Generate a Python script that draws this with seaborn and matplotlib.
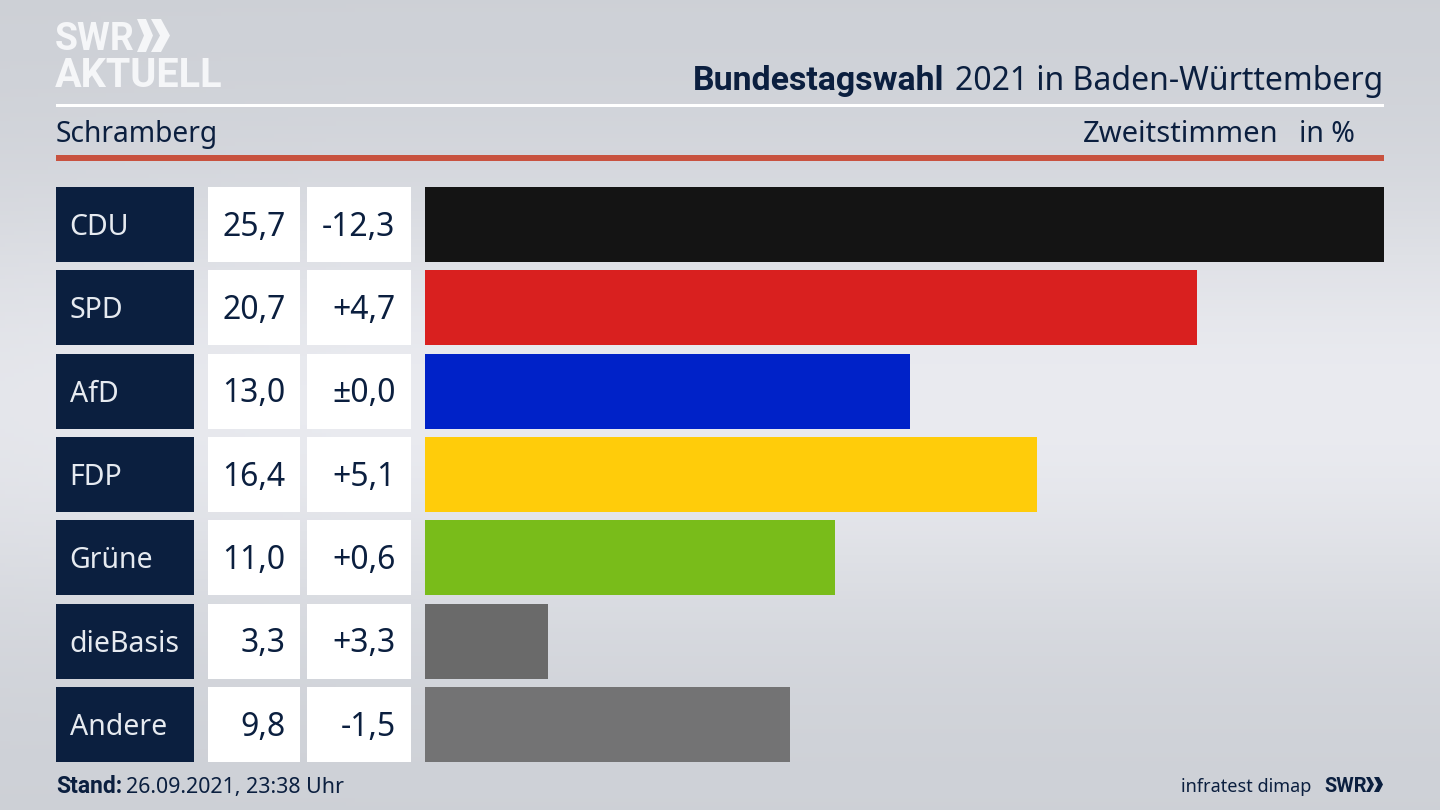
import numpy as np
import pandas as pd
import matplotlib
matplotlib.use('Agg')
import matplotlib.pyplot as plt
import seaborn as sns
from matplotlib.patches import Polygon, Rectangle

parteien = ['CDU', 'SPD', 'AfD', 'FDP', 'Grüne', 'dieBasis', 'Andere']
anteil = [25.7, 20.7, 13.0, 16.4, 11.0, 3.3, 9.8]
anteil_labels = ['25,7', '20,7', '13,0', '16,4', '11,0', '3,3', '9,8']
diff_labels = ['-12,3', '+4,7', '±0,0', '+5,1', '+0,6', '+3,3', '-1,5']
farben = ['#141414', '#d9201f', '#0022c8', '#ffcc0a', '#79bc1a', '#6a6a6a', '#737374']

NAVY = '#0b1f3f'
FONT = 'Noto Sans'
FONT_BOLD = 'Roboto'

sns.set_theme(style='white')
plt.rcParams['font.family'] = [FONT, 'DejaVu Sans']

W, H = 1440, 810
fig = plt.figure(figsize=(W / 100, H / 100), dpi=100)

# Hintergrund: Verlauf grau - hell - grau
bg = fig.add_axes([0, 0, 1, 1], zorder=0)
yy = np.linspace(0, 1, 200)
xx = np.linspace(-1, 1, 300)
verlauf = np.exp(-((yy - 0.5) / 0.27) ** 2)[:, None] * (1 - 0.35 * np.clip(-xx[None, :] - 0.5, 0, 1))
c_dunkel = np.array([205, 208, 214]) / 255
c_hell = np.array([234, 235, 240]) / 255
bild = c_dunkel + (c_hell - c_dunkel) * verlauf[:, :, None]
bg.imshow(bild, extent=(0, W, H, 0), aspect='auto')
bg.set_xlim(0, W)
bg.set_ylim(H, 0)
bg.axis('off')

# Pixel-Achse fuer Texte und Tabelle
px = fig.add_axes([0, 0, 1, 1], zorder=2)
px.set_xlim(0, W)
px.set_ylim(H, 0)
px.axis('off')
px.patch.set_alpha(0)

# Balken
ax = fig.add_axes([424.5 / W, 1 - 762 / H, (1384 - 424.5) / W, 575 / H], zorder=1)
ax.patch.set_alpha(0)
df = pd.DataFrame({'partei': parteien, 'anteil': anteil})
sns.barplot(data=df, y='partei', x='anteil', hue='partei', palette=farben, order=parteien,
            hue_order=parteien, saturation=1, width=0.9, legend=False, dodge=False,
            edgecolor='none', linewidth=0, ax=ax)
ax.set_xlim(0, 25.7)
ax.set_ylim(6.45, -0.45)
ax.axis('off')

# Tabelle links
zeile = 575 / 6.9
for i, partei in enumerate(parteien):
    mitte = 187 + zeile * (i + 0.45)
    top = mitte - 37.5
    px.add_patch(Rectangle((56, top), 137.5, 75, color=NAVY, lw=0))
    px.add_patch(Rectangle((208, top), 91.5, 75, color='white', lw=0))
    px.add_patch(Rectangle((307, top), 103.5, 75, color='white', lw=0))
    px.text(69.5, mitte + 10.5, partei, color='#e6eaf0', fontsize=20.5, va='baseline')
    px.text(285.5, mitte + 11, anteil_labels[i], color=NAVY, fontsize=23, ha='right', va='baseline')
    px.text(395.5, mitte + 11, diff_labels[i], color=NAVY, fontsize=23, ha='right', va='baseline')

# Linien
px.add_patch(Rectangle((56, 104), 1328, 3, color='white', lw=0))
px.add_patch(Rectangle((56, 155), 1328, 5.5, color='#c8523f', lw=0))

# Kopf
px.text(1383, 90, '2021 in Baden-Württemberg', color=NAVY, fontsize=23, ha='right', va='baseline')
px.text(944, 90, 'Bundestagswahl', color=NAVY, fontsize=24.4, family=FONT_BOLD, fontweight='bold',
        ha='right', va='baseline')
px.text(56, 142, 'Schramberg', color=NAVY, fontsize=20.3, va='baseline')
px.text(1278, 142, 'Zweitstimmen', color=NAVY, fontsize=21, ha='right', va='baseline')
px.text(1355, 142, 'in %', color=NAVY, fontsize=20.5, ha='right', va='baseline')

# Logo oben links
px.text(55, 50, 'SWR', color='#f5f6f8', fontsize=27, family=FONT_BOLD, fontweight='bold', va='baseline')
px.text(55, 87, 'AKTUELL', color='#f5f6f8', fontsize=28.5, family=FONT_BOLD, fontweight='bold', va='baseline')


def chevron(x, y0, y1, breite, dicke, farbe):
    m = (y0 + y1) / 2
    px.add_patch(Polygon([(x, y0), (x + dicke, y0), (x + dicke + breite, m), (x + dicke, y1), (x, y1),
                          (x + breite, m)], closed=True, color=farbe, lw=0))


chevron(137, 19, 52, 7, 9, '#f5f6f8')
chevron(151, 19, 52, 9, 10, '#f5f6f8')

# Fuss
px.text(56, 793, 'Stand:', color=NAVY, fontsize=16.5, family=FONT_BOLD, fontweight='bold', va='baseline')
px.text(126, 793, '26.09.2021, 23:38 Uhr', color=NAVY, fontsize=15.4, va='baseline')
px.text(1311, 792, 'infratest dimap', color=NAVY, fontsize=13, ha='right', va='baseline')
px.text(1324, 792, 'SWR', color=NAVY, fontsize=14.4, family=FONT_BOLD, fontweight='bold', va='baseline')
chevron(1366, 777, 792, 4, 4, NAVY)
chevron(1374, 777, 792, 4, 5, NAVY)

fig.savefig('out.png', dpi=100)
